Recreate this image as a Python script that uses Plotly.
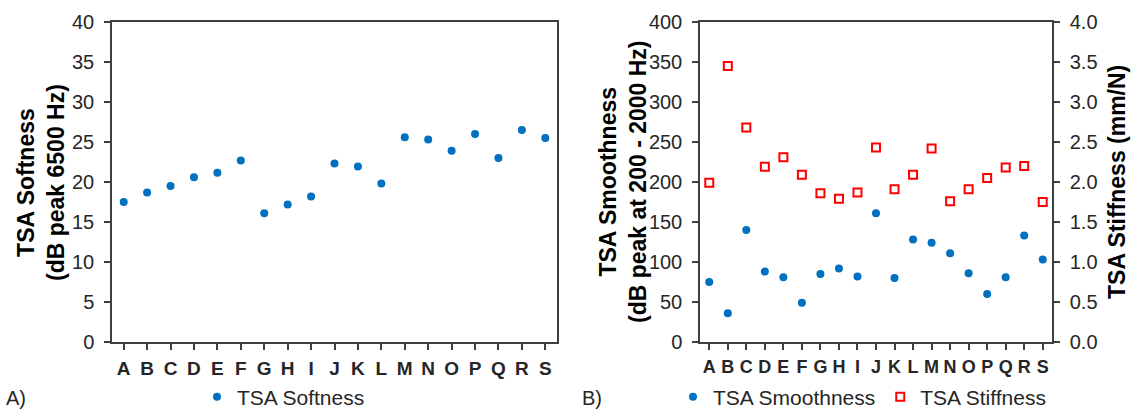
import plotly.graph_objects as go

categories = list("ABCDEFGHIJKLMNOPQRS")
softness = [17.5, 18.7, 19.5, 20.6, 21.15, 22.7, 16.1, 17.2, 18.2, 22.3, 21.95, 19.8,
            25.6, 25.3, 23.9, 26.0, 23.0, 26.5, 25.5]
smoothness = [75, 36, 140, 88, 81, 49, 85, 92, 82, 161, 80, 128,
              124, 111, 86, 60, 81, 133, 103]
stiffness = [1.99, 3.45, 2.68, 2.19, 2.31, 2.09, 1.86, 1.79, 1.87, 2.43, 1.91, 2.09,
             2.42, 1.76, 1.91, 2.05, 2.18, 2.20, 1.75]

W, H = 1131, 409
FONT = "Liberation Sans, Arial, sans-serif"
TXT = "#262626"
AX = "#404040"
BLUE = "#0070C0"
RED = "#FF0000"

def fx(px):
    return px / W

def fy(py):
    return (H - py) / H

fig = go.Figure()
fig.add_trace(go.Scatter(x=categories, y=softness, mode="markers", name="TSA Softness",
                         marker=dict(symbol="circle", size=8, color=BLUE),
                         xaxis="x", yaxis="y", legend="legend"))
fig.add_trace(go.Scatter(x=categories, y=smoothness, mode="markers", name="TSA Smoothness",
                         marker=dict(symbol="circle", size=8, color=BLUE),
                         xaxis="x2", yaxis="y2", legend="legend2"))
fig.add_trace(go.Scatter(x=categories, y=stiffness, mode="markers", name="TSA Stiffness",
                         marker=dict(symbol="square-open", size=8, color=RED,
                                     line=dict(width=2, color=RED)),
                         xaxis="x2", yaxis="y3", legend="legend2"))

tickfont = dict(family=FONT, size=20, color=TXT)

common_x = dict(type="category", range=[-0.5, 18.5], showline=True, linecolor=AX,
                linewidth=1.5, mirror=True, ticks="outside", ticklen=6, tickwidth=1.5,
                tickcolor=AX, showgrid=False, zeroline=False,
                automargin=False, tickmode="array", tickvals=categories,
                ticktext=categories, tickangle=0, ticklabelstandoff=2)
common_y = dict(showline=True, linecolor=AX, linewidth=1.5, ticks="outside", ticklen=6,
                tickwidth=1.5, tickcolor=AX, tickfont=tickfont, showgrid=False,
                zeroline=False, automargin=False, ticklabelstandoff=6)

ydom = [fy(342), fy(22)]

fig.update_layout(
    width=W, height=H, template="none",
    paper_bgcolor="white", plot_bgcolor="white",
    margin=dict(l=0, r=0, t=0, b=0, autoexpand=False),
    xaxis=dict(common_x, domain=[fx(112), fx(557)], anchor="y",
               tickfont=dict(family=FONT, size=19, color=TXT, weight="bold")),
    yaxis=dict(common_y, domain=ydom, range=[0, 40], dtick=5, mirror=True, anchor="x"),
    xaxis2=dict(common_x, domain=[fx(700), fx(1052)], anchor="y2",
                tickfont=dict(family=FONT, size=18, color=TXT, weight="bold")),
    yaxis2=dict(common_y, domain=ydom, range=[0, 400], dtick=50, anchor="x2"),
    yaxis3=dict(common_y, domain=ydom, range=[0, 4], dtick=0.5, tickformat=".1f",
                overlaying="y2", side="right", anchor="x2"),
    legend=dict(orientation="h", x=fx(197), y=fy(397), xanchor="left", yanchor="middle",
                font=dict(family=FONT, size=21, color=TXT), bgcolor="rgba(0,0,0,0)",
                borderwidth=0),
    legend2=dict(orientation="h", x=fx(673), y=fy(397), xanchor="left", yanchor="middle",
                 font=dict(family=FONT, size=21, color=TXT), bgcolor="rgba(0,0,0,0)",
                 borderwidth=0, itemwidth=30),
    showlegend=True,
)

title_font = dict(family=FONT, size=23, color="black", weight="bold")
annotations = [
    dict(text="TSA Softness<br>(dB peak 6500 Hz)", x=fx(41), y=fy(182), textangle=-90),
    dict(text="TSA Smoothness<br>(dB peak at 200 - 2000 Hz)", x=fx(623), y=fy(182), textangle=-90),
    dict(text="TSA Stiffness (mm/N)", x=fx(1117), y=fy(182), textangle=-90),
]
for a in annotations:
    fig.add_annotation(xref="paper", yref="paper", xanchor="center", yanchor="middle",
                       showarrow=False, font=title_font, **a)

for txt, px in [("A)", 16), ("B)", 592)]:
    fig.add_annotation(text=txt, xref="paper", yref="paper", x=fx(px), y=fy(398),
                       xanchor="center", yanchor="middle", showarrow=False,
                       font=dict(family=FONT, size=20, color=TXT))

fig.write_html("out.html")
